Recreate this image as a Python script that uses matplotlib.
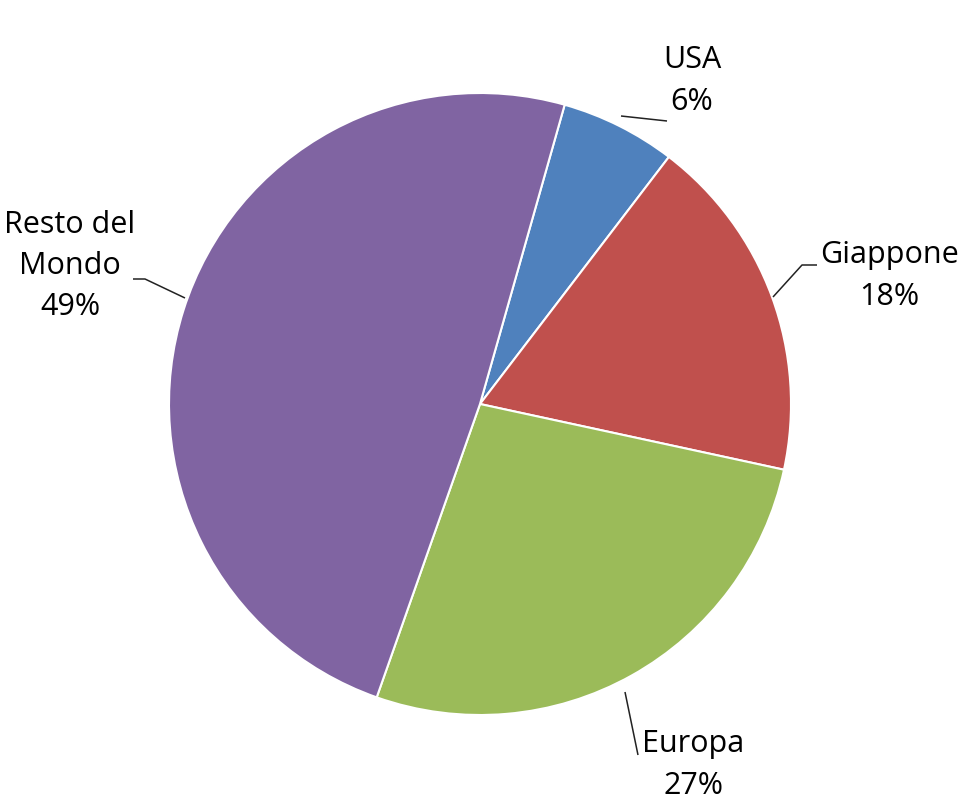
import matplotlib

matplotlib.use("Agg")

import matplotlib.pyplot as plt

# Data
labels = ["USA", "Giappone", "Europa", "Resto del\nMondo"]
shares = [6, 18, 27, 49]
colors = ["#4F81BD", "#C0504D", "#9BBB59", "#8064A2"]

W, H = 967, 802
CX, CY, R = 480, 404, 311  # pie centre / radius in pixels


def px(x, y):
    """Pixel position (from top-left) to data coords, pie radius = 1."""
    return (x - CX) / R, (CY - y) / R


# label centres and leader-line polylines, in pixels
label_pos = [(692, 81), (889, 276), (693, 765), (70, 266)]
leaders = [
    [(621, 116), (667, 121)],
    [(773, 297), (802, 265), (817, 265)],
    [(625, 692), (638, 755)],
    [(185, 298), (145, 279), (133, 279)],
]

fig = plt.figure(figsize=(W / 100, H / 100), dpi=100)
ax = fig.add_axes([0, 0, 1, 1])
ax.pie(shares, colors=colors, startangle=90 - 15.8, counterclock=False,
       radius=1.0, wedgeprops=dict(edgecolor="white", linewidth=1.5))

for lab, share, (x, y) in zip(labels, shares, label_pos):
    tx, ty = px(x, y)
    ax.text(tx, ty, f"{lab}\n{share}%", ha="center", va="center",
            multialignment="center", fontsize=22, family="Open Sans",
            linespacing=1.48, color="black")

for pts in leaders:
    xs, ys = zip(*[px(x, y) for x, y in pts])
    ax.plot(xs, ys, color="#222222", lw=1.1, solid_capstyle="butt")

x0, y0 = px(0, H)
x1, y1 = px(W, 0)
ax.set_xlim(x0, x1)
ax.set_ylim(y0, y1)
ax.set_aspect("equal")
ax.axis("off")
fig.savefig("out.png", dpi=100, facecolor="white")
